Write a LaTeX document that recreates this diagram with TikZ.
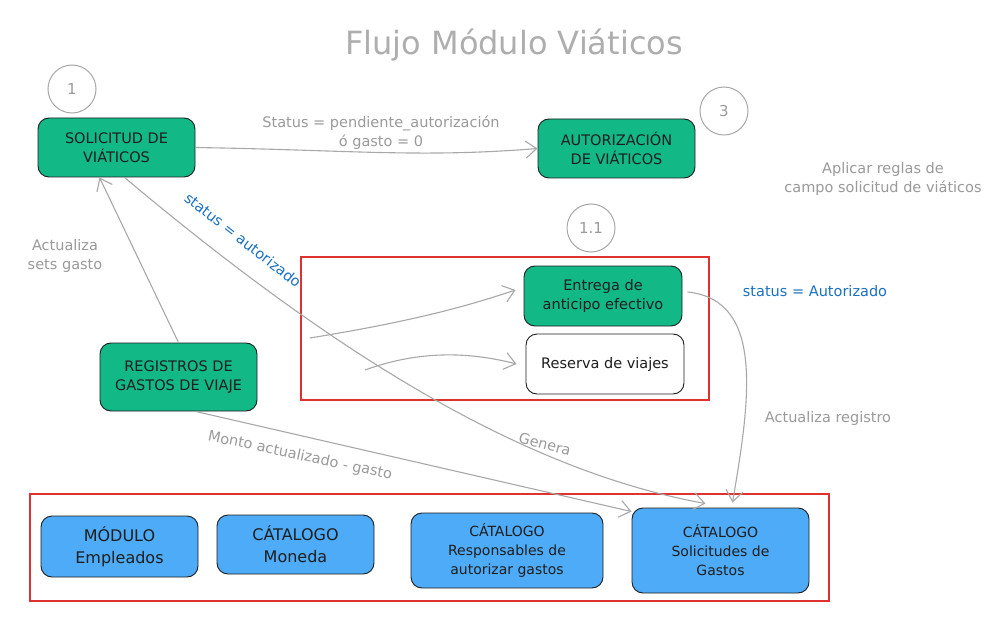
\documentclass[tikz,border=0pt]{standalone}
\usepackage{fontspec}
\setmainfont{DejaVu Sans}
\usetikzlibrary{arrows.meta}
\definecolor{exgreen}{HTML}{12B886}
\definecolor{exblue}{HTML}{4DABF7}
\definecolor{exred}{HTML}{E03131}
\definecolor{exline}{HTML}{A8A8A8}
\definecolor{extext}{HTML}{9A9A9A}
\definecolor{exbluetext}{HTML}{1971C2}
\definecolor{exdark}{HTML}{1E1E1E}
\tikzset{
  box/.style={draw=exdark, line width=0.9pt, rounded corners=11pt, align=center, text=exdark, inner sep=2pt},
  gbox/.style={box, fill=exgreen, font=\fontsize{14.5}{19}\selectfont},
  wbox/.style={box, fill=white, font=\fontsize{14.5}{19}\selectfont},
  bbox/.style={box, fill=exblue},
  numcirc/.style={draw=exline, line width=1pt, circle, minimum size=48pt, inner sep=0pt, text=extext, font=\fontsize{15}{18}\selectfont},
  lbl/.style={text=extext, align=center, font=\fontsize{14.5}{19}\selectfont},
  blbl/.style={text=exbluetext, align=center, font=\fontsize{14.5}{19}\selectfont},
  arr/.style={draw=exline, line width=1.1pt, -{Straight Barb[length=11pt,width=17pt,line width=1.1pt]}},
  frame/.style={draw=exred, line width=1.3pt}
}
\begin{document}
\begin{tikzpicture}[x=1pt,y=-1pt]
\useasboundingbox (0,0) rectangle (1003,628);
\fill[white] (0,0) rectangle (1003,628);

% title
\node[text=extext!80, font=\fontsize{32}{38}\selectfont] (title) at (514,45) {Flujo Módulo Viáticos};

% frames
\draw[frame] (301,257) rectangle (709,400);
\draw[frame] (30,494) rectangle (829,601);

% circles
\node[numcirc] (c1) at (72,89) {1};
\node[numcirc] (c3) at (724,111) {3};
\node[numcirc] (c11) at (591,228) {1.1};

% main nodes
\node[gbox, minimum width=157pt, minimum height=59pt] (sol) at (116.5,147.5) {SOLICITUD DE\\VIÁTICOS};
\node[gbox, minimum width=157pt, minimum height=59pt] (aut) at (616.5,148.5) {AUTORIZACIÓN\\DE VIÁTICOS};
\node[gbox, minimum width=158pt, minimum height=60pt] (ent) at (603,296) {Entrega de\\anticipo efectivo};
\node[wbox, minimum width=158pt, minimum height=60pt] (res) at (605,364) {Reserva de viajes};
\node[gbox, minimum width=157pt, minimum height=68pt] (reg) at (178.5,377) {REGISTROS DE\\GASTOS DE VIAJE};

\node[bbox, minimum width=157pt, minimum height=61pt, font=\fontsize{16}{22}\selectfont] (emp) at (119.5,546.5) {MÓDULO\\Empleados};
\node[bbox, minimum width=157pt, minimum height=59pt, font=\fontsize{16}{22}\selectfont] (mon) at (295.5,544.5) {CÁTALOGO\\Moneda};
\node[bbox, minimum width=192pt, minimum height=75pt, font=\fontsize{14}{19}\selectfont] (rsp) at (507,550.5) {CÁTALOGO\\Responsables de\\autorizar gastos};
\node[bbox, minimum width=177pt, minimum height=85pt, font=\fontsize{14}{19}\selectfont] (sgas) at (720.5,550.5) {CÁTALOGO\\Solicitudes de\\Gastos};

% free text
\node[lbl] (reglas) at (883,179) {Aplicar reglas de\\campo solicitud de viáticos};
\node[lbl] (actsets) at (65,256) {Actualiza\\sets gasto};

% connectors
\draw[arr] (sol.east) .. controls (350,150) and (420,158) .. (aut.west);
\node[lbl] (lpend) at (381,133) {Status = pendiente\_autorización\\ó gasto = 0};

\draw[arr] (reg.north) -- ([xshift=-17pt]sol.south);

\draw[arr] ([xshift=8pt]sol.south) .. controls (330,350) and (520,470) .. ([xshift=-15pt,yshift=4pt]sgas.north);
\node[blbl, rotate=-38] (lstat) at (243,240) {status = autorizado};
\node[lbl, rotate=-15] (lgen) at (545,444) {Genera};

\draw[arr] ([xshift=17pt]reg.south) -- ([yshift=-4pt]sgas.north west);
\node[lbl, rotate=-12] (lmonto) at (300,456) {Monto actualizado - gasto};

\coordinate (s1) at (310,338);
\coordinate (s2) at (365,370);
\draw[arr] (s1) .. controls (420,320) and (470,305) .. ([xshift=-8pt,yshift=6pt]ent.west);
\draw[arr] (s2) .. controls (420,350) and (470,352) .. ([xshift=-9pt]res.west);

\draw[arr] ([xshift=5pt,yshift=4pt]ent.east) .. controls (765,300) and (750,400) .. ([xshift=12pt,yshift=5pt]sgas.north);
\node[blbl] (lstat2) at (815,291) {status = Autorizado};
\node[lbl] (lactreg) at (828,418) {Actualiza registro};
\end{tikzpicture}
\end{document}
